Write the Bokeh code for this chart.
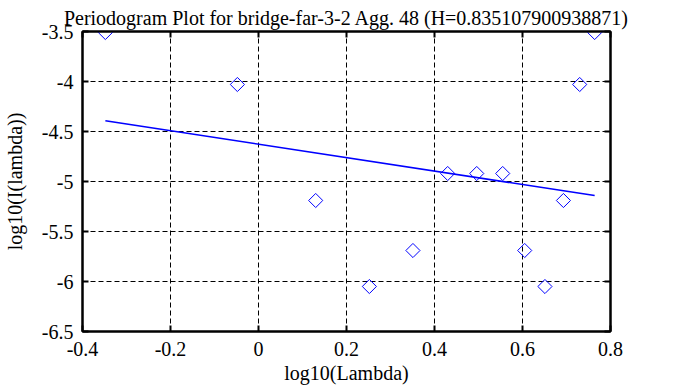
from bokeh.plotting import figure
from bokeh.models import LinearAxis, FixedTicker, Range1d
from bokeh.embed import file_html
from bokeh.resources import INLINE
import math

# ---- data ----
log_lambda = [-0.348, -0.048, 0.130, 0.252, 0.351, 0.430, 0.496, 0.555, 0.605, 0.651, 0.693, 0.730, 0.764]
log_I = [-3.51, -4.03, -5.19, -6.05, -5.69, -4.92, -4.92, -4.92, -5.69, -6.05, -5.19, -4.03, -3.51]
fit_x = [-0.348, 0.764]
fit_y = [-4.393, -5.140]
x_ticks = [-0.4, -0.2, 0, 0.2, 0.4, 0.6, 0.8]
x_tick_labels = ["-0.4", "-0.2", "0", "0.2", "0.4", "0.6", "0.8"]
y_ticks = [-6.5, -6, -5.5, -5, -4.5, -4, -3.5]
y_tick_labels = ["-6.5", "-6", "-5.5", "-5", "-4.5", "-4", "-3.5"]
title_text = "Periodogram Plot for bridge-far-3-2 Agg. 48 (H=0.835107900938871)"
x_label = "log10(Lambda)"
y_label = "log10(I(lambda))"

FONT = "Liberation Serif"
FS = "20px"

p = figure(frame_width=528, frame_height=300,
           x_range=Range1d(-0.4, 0.8), y_range=Range1d(-6.5, -3.5),
           output_backend="svg", toolbar_location=None,
           min_border_left=82, min_border_right=68, min_border_top=31, min_border_bottom=56,
           x_axis_label=x_label, y_axis_label=y_label)

p.title.text = title_text
p.title.text_font = FONT
p.title.text_font_size = FS
p.title.text_font_style = "normal"
p.title.text_color = "black"
p.title.align = "center"
p.title.standoff = 6
p.title.offset = 0

p.outline_line_color = "black"
p.outline_line_width = 2
p.background_fill_color = "white"
p.border_fill_color = "white"

xt = FixedTicker(ticks=x_ticks)
yt = FixedTicker(ticks=y_ticks)
p.xaxis.ticker = xt
p.yaxis.ticker = yt
p.xaxis.major_label_overrides = dict(zip(x_ticks, x_tick_labels))
p.yaxis.major_label_overrides = dict(zip(y_ticks, y_tick_labels))

for ax in (p.xaxis[0], p.yaxis[0]):
    ax.axis_line_width = 2
    ax.major_tick_in = 6
    ax.major_tick_out = 0
    ax.major_tick_line_width = 2
    ax.minor_tick_line_color = None
    ax.major_label_text_font = FONT
    ax.major_label_text_font_size = FS
    ax.major_label_text_color = "black"
    ax.axis_label_text_font = FONT
    ax.axis_label_text_font_size = FS
    ax.axis_label_text_font_style = "normal"
    ax.axis_label_text_color = "black"

p.xaxis.major_label_standoff = 10
p.xaxis.axis_label_standoff = 3
p.yaxis.major_label_standoff = 9
p.yaxis.axis_label_standoff = 13
p.yaxis.major_label_orientation = "horizontal"

top = LinearAxis(ticker=xt, axis_line_width=2, major_tick_in=6, major_tick_out=0,
                 major_tick_line_width=2, minor_tick_line_color=None,
                 major_label_overrides={t: "" for t in x_ticks}, major_label_standoff=0)
right = LinearAxis(ticker=yt, axis_line_width=2, major_tick_in=6, major_tick_out=0,
                   major_tick_line_width=2, minor_tick_line_color=None,
                   major_label_overrides={t: "" for t in y_ticks}, major_label_standoff=0)
p.add_layout(top, "above")
p.add_layout(right, "right")

p.xgrid.ticker = xt
p.ygrid.ticker = yt
for g in (p.xgrid[0], p.ygrid[0]):
    g.grid_line_color = "black"
    g.grid_line_dash = "5 3"
    g.grid_line_width = 1

p.line(fit_x, fit_y, line_color="#0000ff", line_width=1.6)
p.scatter(log_lambda, log_I, marker="square", size=10, angle=math.pi / 4,
          fill_color=None, line_color="#0000ff", line_width=1)

open("out.html", "w").write(file_html(p, INLINE))
